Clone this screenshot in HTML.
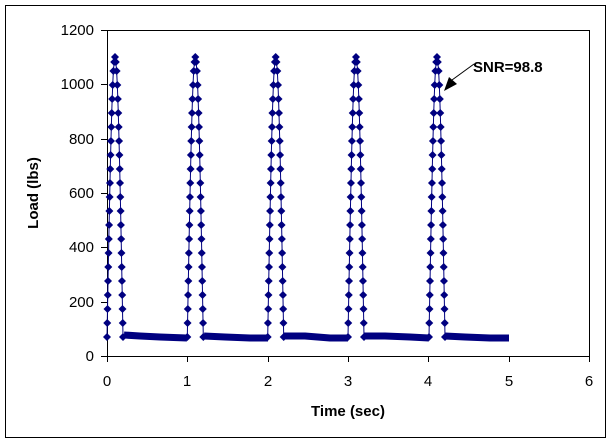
<!DOCTYPE html>
<html><head><style>
html,body{margin:0;padding:0;background:#fff;}
svg{display:block;font-family:"Liberation Sans",Arial,sans-serif;}
</style></head><body>
<svg width="615" height="446" viewBox="0 0 615 446">
<defs>
<marker id="dm" markerUnits="userSpaceOnUse" markerWidth="9" markerHeight="9" refX="4.5" refY="4.5" overflow="visible">
<path d="M4.5 0.5L8.5 4.5L4.5 8.5L0.5 4.5Z" fill="#000080"/>
</marker>
<polyline id="pk" fill="none" stroke="#000080" stroke-width="1" marker-start="url(#dm)" marker-mid="url(#dm)" marker-end="url(#dm)"
points="0,337 0.25,323 0.51,309 0.77,295 1.03,281 1.29,267 1.55,253 1.82,239 2.1,225 2.38,211 2.67,197 2.97,183 3.28,169 3.6,155 3.95,141 4.32,127 4.72,113 5.17,99 5.7,85 6.38,71 7.2,62 8,57 8.8,62 9.62,71 10.3,85 10.83,99 11.28,113 11.68,127 12.05,141 12.4,155 12.72,169 13.03,183 13.33,197 13.62,211 13.9,225 14.18,239 14.45,253 14.71,267 14.97,281 15.23,295 15.49,309 15.75,323 16,337"/>
</defs>
<rect x="5.5" y="5.5" width="600" height="432" fill="#fff" stroke="#000" stroke-width="1"/>
<rect x="107.5" y="30.5" width="482" height="326" fill="#fff" stroke="#000" stroke-width="1"/>
<g stroke="#000" stroke-width="1">
<line x1="101" y1="356.5" x2="107" y2="356.5"/><line x1="101" y1="302.5" x2="107" y2="302.5"/>
<line x1="101" y1="247.5" x2="107" y2="247.5"/><line x1="101" y1="193.5" x2="107" y2="193.5"/>
<line x1="101" y1="139.5" x2="107" y2="139.5"/><line x1="101" y1="84.5" x2="107" y2="84.5"/>
<line x1="101" y1="30.5" x2="107" y2="30.5"/>
<line x1="107.5" y1="356" x2="107.5" y2="362"/><line x1="187.5" y1="356" x2="187.5" y2="362"/>
<line x1="268.5" y1="356" x2="268.5" y2="362"/><line x1="348.5" y1="356" x2="348.5" y2="362"/>
<line x1="428.5" y1="356" x2="428.5" y2="362"/><line x1="509.5" y1="356" x2="509.5" y2="362"/>
<line x1="589.5" y1="356" x2="589.5" y2="362"/>
</g>
<g font-size="15" fill="#000" text-anchor="end">
<text x="94" y="361">0</text><text x="94" y="307">200</text><text x="94" y="252">400</text>
<text x="94" y="198">600</text><text x="94" y="144">800</text><text x="94" y="89">1000</text>
<text x="94" y="35">1200</text>
</g>
<g font-size="15" fill="#000" text-anchor="middle">
<text x="107" y="386">0</text><text x="187" y="386">1</text><text x="268" y="386">2</text>
<text x="348" y="386">3</text><text x="428" y="386">4</text><text x="509" y="386">5</text>
<text x="589" y="386">6</text>
</g>
<text x="348" y="416" font-size="15" font-weight="bold" text-anchor="middle">Time (sec)</text>
<text transform="translate(38,193) rotate(-90)" font-size="15" font-weight="bold" text-anchor="middle">Load (lbs)</text>
<g fill="none" stroke="#000080" stroke-width="7" stroke-linejoin="round">
<polyline points="124,335 140,336 160,337 187,338"/>
<polyline points="204,336 225,337 250,338 268,338"/>
<polyline points="284,336 305,336 330,338 348,338"/>
<polyline points="364,336 385,336 410,337 429,338"/>
<polyline points="445,336 465,337 490,338 509,338"/>
</g>
<use href="#pk" x="107" y="0"/>
<use href="#pk" x="187.3" y="0"/>
<use href="#pk" x="267.7" y="0"/>
<use href="#pk" x="348" y="0"/>
<use href="#pk" x="429" y="0"/>
<line x1="474" y1="64" x2="452" y2="80" stroke="#000" stroke-width="1"/>
<polygon points="444,91 449,77 457,84" fill="#000"/>
<text x="473" y="72" font-size="15" font-weight="bold">SNR=98.8</text>
</svg>
</body></html>
